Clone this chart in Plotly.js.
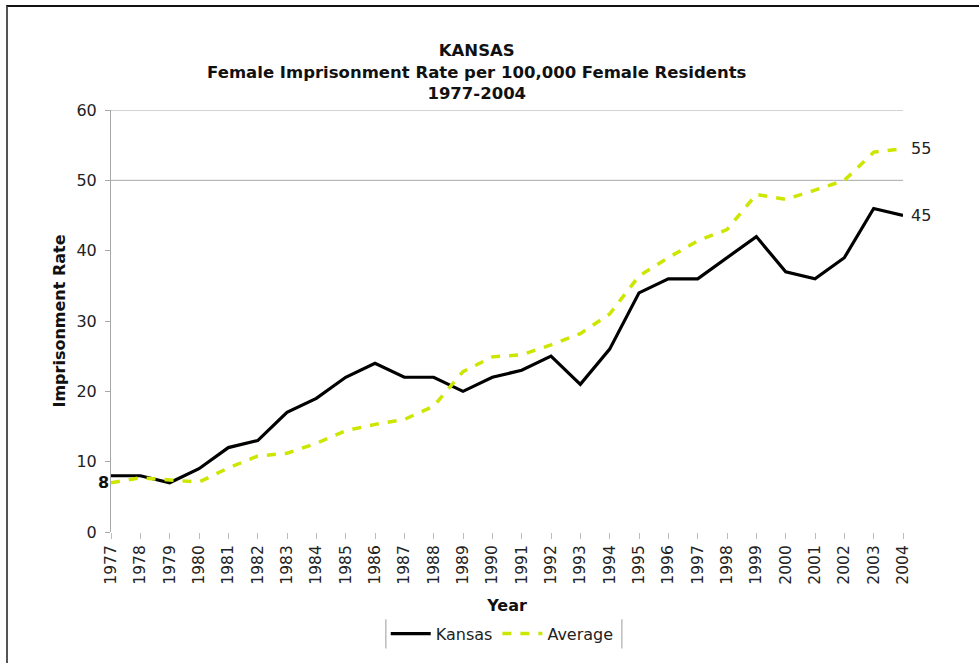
<!DOCTYPE html>
<html>
<head>
<meta charset="utf-8">
<script src="https://cdn.plot.ly/plotly-3.0.1.min.js"></script>
<style>
  html, body { margin: 0; padding: 0; background: #fff; }
  #frame { position: absolute; left: 0; top: 0; width: 979px; height: 663px; }
  #edge { position: absolute; left: 6px; top: 5px; width: 973px; height: 658px;
          border-left: 2px solid #555; border-top: 2px solid #111; pointer-events: none; }
  #chart { position: absolute; left: 0; top: 0; width: 979px; height: 663px; }
</style>
</head>
<body>
<div id="frame">
  <div id="chart"></div>
  <div id="edge"></div>
</div>
<script>
const years = ["1977","1978","1979","1980","1981","1982","1983","1984","1985","1986",
  "1987","1988","1989","1990","1991","1992","1993","1994","1995","1996",
  "1997","1998","1999","2000","2001","2002","2003","2004"];
const kansas = [8, 8, 7, 9, 12, 13, 17, 19, 22, 24,
  22, 22, 20, 22, 23, 25, 21, 26, 34, 36,
  36, 39, 42, 37, 36, 39, 46, 45];
const average = [7.0, 7.7, 7.4, 7.1, 9.1, 10.8, 11.2, 12.6, 14.4, 15.3,
  16.0, 17.9, 22.8, 24.9, 25.2, 26.6, 28.2, 31.0, 36.4, 39.0,
  41.4, 43.0, 48.0, 47.3, 48.6, 50.0, 54.0, 54.5];
const yTicks = [0, 10, 20, 30, 40, 50, 60];
const gridTicks = [50, 60];
const seriesNames = ["Kansas", "Average"];
const startLabel = "8";
const endLabels = ["45", "55"];

const FONT = "DejaVu Sans, Verdana, sans-serif";
const last = years.length - 1;

const traces = [
  { x: years, y: kansas, name: seriesNames[0], type: "scatter", mode: "lines",
    line: { color: "#000000", width: 3.2 }, hoverinfo: "x+y" },
  { x: years, y: average, name: seriesNames[1], type: "scatter", mode: "lines",
    line: { color: "rgb(204,230,0)", width: 3.5, dash: "9px,9px" }, hoverinfo: "x+y" }
];

const gridShapes = gridTicks.map(v => ({
  type: "line", xref: "paper", yref: "y", x0: 0, x1: 1, y0: v, y1: v,
  line: { color: "#a8a8a8", width: 1 }, layer: "below"
}));

const layout = {
  width: 979, height: 663,
  paper_bgcolor: "rgba(0,0,0,0)", plot_bgcolor: "rgba(0,0,0,0)",
  margin: { l: 111, r: 76, t: 110, b: 131 },
  font: { family: FONT, color: "#222", size: 14 },
  title: {
    text: "<b>KANSAS</b><br><b>Female Imprisonment Rate per 100,000 Female Residents</b><br><b>1977-2004</b>",
    font: { family: FONT, size: 16.5, color: "#111" },
    x: 0.487, xref: "container", xanchor: "center",
    y: 0.915, yref: "container", yanchor: "middle"
  },
  xaxis: {
    type: "category", categoryorder: "array", categoryarray: years,
    range: [0, last], tickangle: -90,
    tickfont: { family: FONT, size: 15.5, color: "#222" },
    showgrid: false, showline: false, zeroline: false,
    ticks: "outside", ticklen: 6, tickcolor: "#bbbbbb", tickwidth: 1,
    title: { text: "<b>Year</b>", font: { family: FONT, size: 16, color: "#111" }, standoff: 16 }
  },
  yaxis: {
    range: [0, 60], tickvals: yTicks, ticktext: yTicks.map(String),
    tickfont: { family: FONT, size: 16, color: "#222" },
    showgrid: false, zeroline: false,
    showline: true, linecolor: "#a8a8a8", linewidth: 1,
    ticks: "outside", ticklen: 5, tickcolor: "#a8a8a8", ticklabelstandoff: 5,
    title: { text: "<b>Imprisonment Rate</b>", font: { family: FONT, size: 16, color: "#111" }, standoff: 6 }
  },
  showlegend: true,
  legend: {
    orientation: "h", x: 0.494, xanchor: "center", xref: "paper",
    y: -0.241, yanchor: "middle",
    font: { family: FONT, size: 16, color: "#222" },
    bgcolor: "rgba(0,0,0,0)", borderwidth: 0,
    itemwidth: 40, tracegroupgap: 0, itemclick: false
  },
  annotations: [
    { xref: "paper", yref: "y", x: 0, y: kansas[0], text: "<b>" + startLabel + "</b>", showarrow: false,
      xanchor: "right", xshift: 0, yshift: -7, font: { family: FONT, size: 16, color: "#111" } },
    { xref: "paper", yref: "y", x: 1, y: kansas[last], text: endLabels[0], showarrow: false,
      xanchor: "left", xshift: 6, font: { family: FONT, size: 16, color: "#222" } },
    { xref: "paper", yref: "y", x: 1, y: average[last], text: endLabels[1], showarrow: false,
      xanchor: "left", xshift: 6, font: { family: FONT, size: 16, color: "#222" } }
  ],
  shapes: gridShapes.concat([
    { type: "line", xref: "paper", yref: "paper", x0: 0.347, x1: 0.347, y0: -0.207, y1: -0.276,
      line: { color: "#bdbdbd", width: 1.5 } },
    { type: "line", xref: "paper", yref: "paper", x0: 0.645, x1: 0.645, y0: -0.207, y1: -0.276,
      line: { color: "#bdbdbd", width: 1.5 } }
  ])
};

Plotly.newPlot("chart", traces, layout, { displayModeBar: false, staticPlot: true });
</script>
</body>
</html>
